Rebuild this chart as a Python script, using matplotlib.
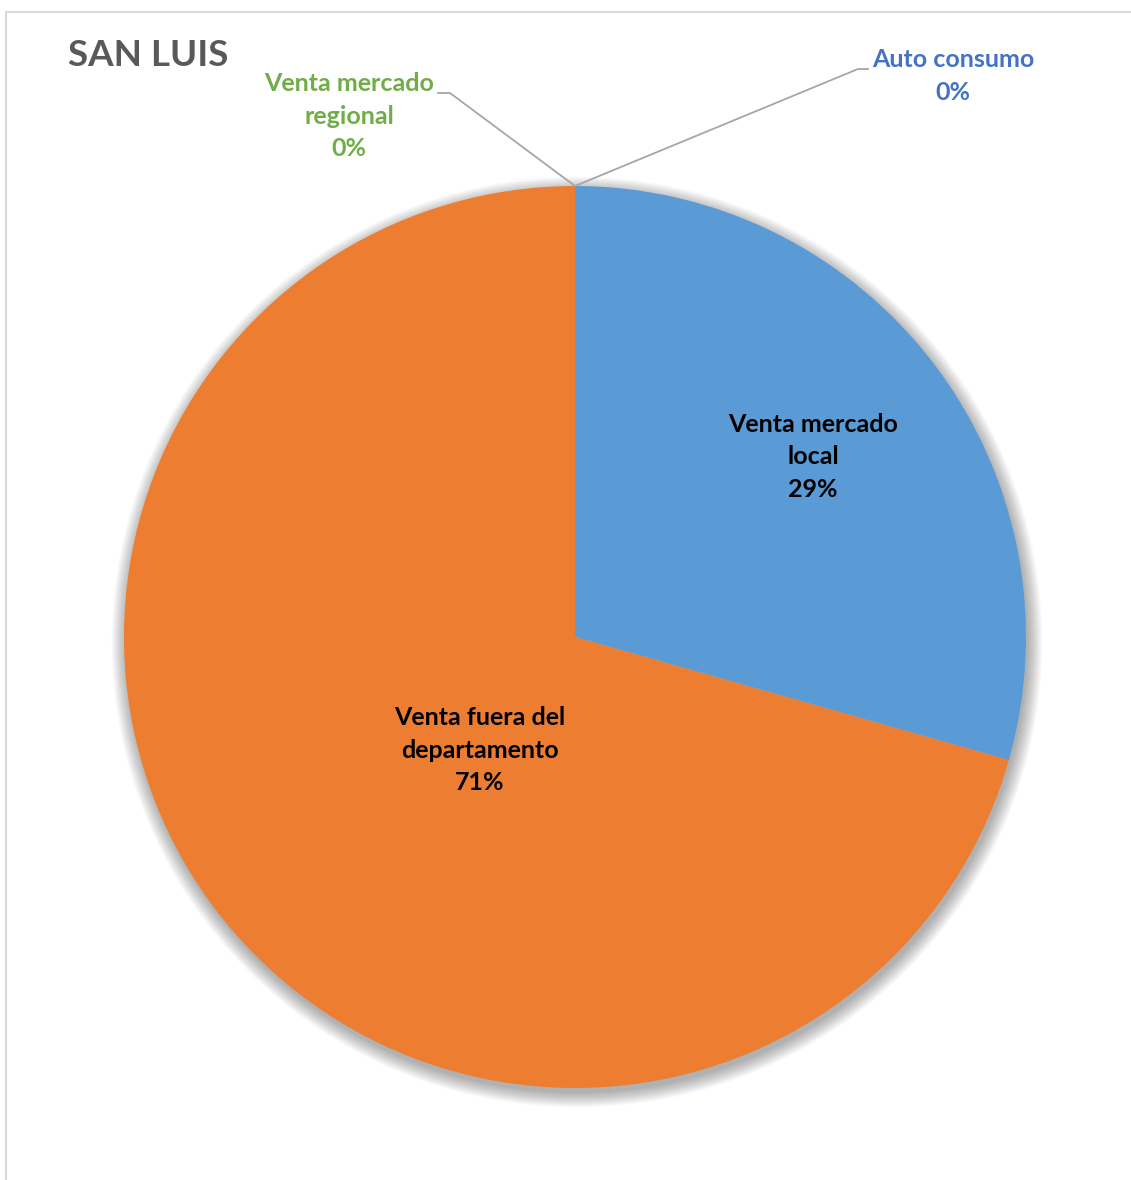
import matplotlib.pyplot as plt
from matplotlib.patches import Circle

# chart data
title = 'SAN LUIS'
categories = ['Auto consumo', 'Venta mercado local',
              'Venta fuera del departamento', 'Venta mercado regional']
label_text = ['Auto consumo', 'Venta mercado\nlocal',
              'Venta fuera del\ndepartamento', 'Venta mercado\nregional']
values = [0, 29.4, 70.6, 0]
colors = ['#4472C4', '#5B9BD5', '#ED7D31', '#70AD47']
label_colors = ['#4472C4', 'black', 'black', '#70AD47']

W, H = 1131, 1180
plt.rcParams['font.family'] = ['Lato', 'DejaVu Sans']
fig = plt.figure(figsize=(W / 100, H / 100), dpi=100)
ax = fig.add_axes([0, 0, 1, 1])

def Y(y):
    return H - y

cx, cy, r = 575, Y(637), 451

# soft shadow behind the pie
for i in range(14):
    ax.add_patch(Circle((cx + 2, cy - 5), r + i * 1.1, color='black',
                        alpha=0.022, lw=0, zorder=1))

wedges, _ = ax.pie(values, colors=colors, startangle=90, counterclock=False,
                   center=(cx, cy), radius=r, frame=True,
                   wedgeprops=dict(linewidth=0, zorder=2))
ax.set_xlim(0, W)
ax.set_ylim(0, H)
ax.axis('off')

# chart frame
ax.plot([6, 6, W + 5], [-5, Y(12), Y(12)], color='#D9D9D9', lw=1.5)

total = sum(values)
pct = [f'{v / total:.0%}' for v in values]
fs = 18
ls = 1.5

# inside labels
inside_pos = {1: (813, 457), 2: (480, 750)}
for i, (x, y) in inside_pos.items():
    ax.text(x, Y(y), f'{label_text[i]}\n{pct[i]}', ha='center', va='center',
            fontsize=fs, fontweight='bold', color=label_colors[i],
            linespacing=ls, zorder=5)

# outside labels with leader lines
top = (cx, cy + r)
ax.plot([top[0], 858, 868], [top[1], Y(69), Y(69)], color='#A6A6A6', lw=1.3, zorder=4)
ax.text(953, Y(76), f'{label_text[0]}\n{pct[0]}', ha='center', va='center',
        fontsize=fs, fontweight='bold', color=label_colors[0], linespacing=ls)
ax.plot([top[0], 450, 438], [top[1], Y(93), Y(93)], color='#A6A6A6', lw=1.3, zorder=4)
ax.text(349, Y(116), f'{label_text[3]}\n{pct[3]}', ha='center', va='center',
        fontsize=fs, fontweight='bold', color=label_colors[3], linespacing=ls)

ax.text(68, Y(56), title, ha='left', va='center', fontsize=26.5,
        fontweight='bold', color='#595959')

fig.savefig('out.png', dpi=100)
